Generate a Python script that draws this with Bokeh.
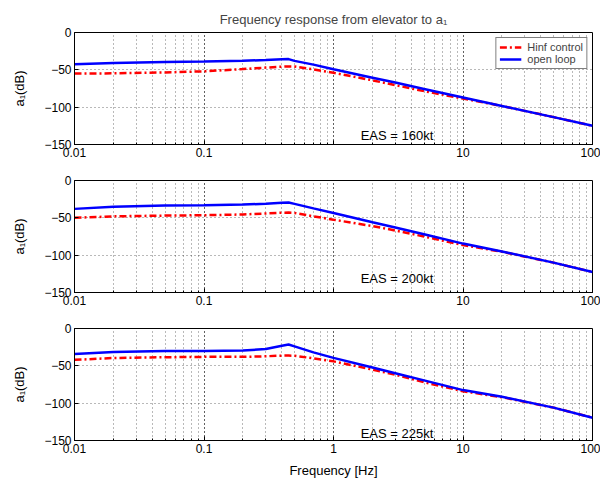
from bokeh.plotting import figure
from bokeh.layouts import column
from bokeh.models import Range1d, FixedTicker, Label, CustomJSTickFormatter, Legend, LegendItem
from bokeh.embed import file_html
from bokeh.resources import INLINE

FONT = "Liberation Sans"

freq = [0.01, 0.02, 0.05, 0.1, 0.2, 0.3, 0.4, 0.45, 0.5, 0.7, 1, 2, 3, 5, 10, 20, 50, 100]

ol_160 = [-42.5, -40.8, -39.4, -39, -38, -36.8, -35.8, -35.6, -38, -43, -49.3, -60.5, -67, -75.7, -87, -98.4, -113.3, -125]
hinf_160 = [-55, -54.7, -53.5, -52, -49, -47, -45.8, -45.5, -45.6, -49.5, -54, -64, -70.5, -78.5, -88.5, -98.4, -113.3, -125]

ol_200 = [-38, -35, -33.5, -33.3, -32.3, -31, -29.8, -29.5, -31.3, -37.3, -43.6, -55.9, -63, -72, -84.5, -95, -110, -122.5]
hinf_200 = [-50, -48, -47, -46.5, -45.5, -44.2, -43.2, -43, -43.5, -48, -52.5, -61, -67, -75, -86.5, -95.5, -110, -122.5]

ol_225 = [-34, -31.5, -30, -30, -29.5, -27.5, -23, -21.5, -24, -32, -39.3, -52.3, -59.9, -69.5, -82.5, -91.5, -106, -119.5]
hinf_225 = [-42, -39.5, -38.5, -38, -38, -37.2, -36.3, -36.2, -36.5, -40, -44, -55, -62, -72, -84, -92, -106, -119.5]

eas_labels = ["EAS = 160kt", "EAS = 200kt", "EAS = 225kt"]
eas_y = [-138, -131, -140]
eas_x = 1.62

y_ticks = [-150, -100, -50, 0]
y_tick_text = {-150: "\u2212150", -100: "\u2212100", -50: "\u221250", 0: "0"}

title_text = "Frequency response from elevator to a\u2081"
y_label = "a\u2081(dB)"
x_label = "Frequency [Hz]"

series = [(ol_160, hinf_160), (ol_200, hinf_200), (ol_225, hinf_225)]

borders = [(32, 24, 168), (12, 24, 148), (12, 42, 166)]

figs = []
for i, (ol, hinf) in enumerate(series):
    top, bottom, h = borders[i]
    p = figure(width=600, height=h, x_axis_type="log", output_backend="svg",
               toolbar_location=None, x_range=Range1d(0.01, 100), y_range=Range1d(-150, 0),
               min_border_left=74, min_border_right=8, min_border_top=top, min_border_bottom=bottom)
    p.background_fill_color = "white"
    p.border_fill_color = "white"
    p.outline_line_color = "black"
    p.outline_line_width = 1

    r_h = p.line(freq, hinf, line_color="#ff0000", line_width=2.5, line_dash="7 3 2 3")
    r_o = p.line(freq, ol, line_color="#0000ff", line_width=2.5)

    hide1 = i < 2
    p.xaxis.formatter = CustomJSTickFormatter(args=dict(hide1=hide1), code="""
        const v = Number(tick.toPrecision(6));
        if (hide1 && Math.abs(v - 1) < 1e-9) { return ""; }
        return String(v);
    """)
    p.yaxis.ticker = FixedTicker(ticks=y_ticks)
    p.yaxis.major_label_overrides = y_tick_text
    for ax in (p.xaxis[0], p.yaxis[0]):
        ax.axis_line_color = "black"
        ax.major_tick_in = 4
        ax.major_tick_out = 0
        ax.minor_tick_in = 2
        ax.minor_tick_out = 0
        ax.major_tick_line_color = "black"
        ax.minor_tick_line_color = "black"
        ax.major_label_text_font = FONT
        ax.major_label_text_font_size = "12px"
        ax.major_label_text_color = "black"
        ax.major_label_standoff = 3
        ax.axis_label_text_font = FONT
        ax.axis_label_text_font_size = "13px"
        ax.axis_label_text_font_style = "normal"
        ax.axis_label_text_color = "black"
    p.yaxis.minor_tick_line_color = None
    p.yaxis.axis_label = y_label
    p.yaxis.axis_label_standoff = 14
    if i == 2:
        p.xaxis.axis_label = x_label
        p.xaxis.axis_label_standoff = 7

    p.xgrid.grid_line_color = "black"
    p.xgrid.grid_line_alpha = 0.55
    p.xgrid.grid_line_dash = "1 3"
    p.xgrid.minor_grid_line_color = "black"
    p.xgrid.minor_grid_line_alpha = 0.55
    p.xgrid.minor_grid_line_dash = "1 3"
    p.ygrid.ticker = FixedTicker(ticks=[-100, -50])
    p.ygrid.grid_line_color = "black"
    p.ygrid.grid_line_alpha = 0.55
    p.ygrid.grid_line_dash = "1 3"

    p.add_layout(Label(x=eas_x, y=eas_y[i], text=eas_labels[i], text_font=FONT,
                       text_font_size="13px", text_color="black", text_baseline="middle",
                       text_align="left"))

    if i == 0:
        p.title.text = title_text
        p.title.align = "center"
        p.title.text_font = FONT
        p.title.text_font_size = "13px"
        p.title.text_font_style = "normal"
        p.title.standoff = 11
        leg = Legend(items=[LegendItem(label="Hinf control", renderers=[r_h]),
                            LegendItem(label="open loop", renderers=[r_o])],
                     location="top_right")
        leg.label_text_font = FONT
        leg.label_text_font_size = "11px"
        leg.label_height = 10
        leg.glyph_height = 10
        leg.glyph_width = 22
        leg.label_standoff = 6
        leg.spacing = 0
        leg.padding = 3
        leg.margin = 5
        leg.border_line_color = "black"
        leg.border_line_width = 1
        leg.background_fill_color = "white"
        leg.background_fill_alpha = 1
        p.add_layout(leg)
    figs.append(p)

layout = column(*figs, spacing=0)
open("out.html", "w").write(file_html(layout, INLINE))
